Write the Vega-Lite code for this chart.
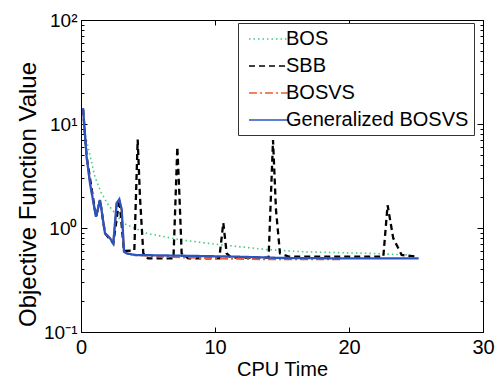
{
  "$schema": "https://vega.github.io/schema/vega-lite/v6.json",
  "width": 402,
  "height": 312,
  "autosize": "none",
  "padding": {"left": 81, "top": 20, "right": 16, "bottom": 53},
  "background": "white",
  "config": {
    "font": "Liberation Sans",
    "view": {"stroke": "black", "strokeWidth": 1},
    "axis": {"grid": false, "domainColor": "black", "tickColor": "black", "labelColor": "black", "titleColor": "black", "labelFont": "Liberation Sans", "titleFont": "Liberation Sans", "titleFontWeight": "normal"}
  },
  "data": {"values": [
    {"s": "BOS", "x": 0.15, "y": 14},
    {"s": "BOS", "x": 0.3, "y": 8},
    {"s": "BOS", "x": 0.67, "y": 5.0},
    {"s": "BOS", "x": 1.04, "y": 3.1},
    {"s": "BOS", "x": 1.5, "y": 2.2},
    {"s": "BOS", "x": 2.04, "y": 1.66},
    {"s": "BOS", "x": 3.16, "y": 1.11},
    {"s": "BOS", "x": 4.9, "y": 0.89},
    {"s": "BOS", "x": 7.39, "y": 0.77},
    {"s": "BOS", "x": 10.4, "y": 0.69},
    {"s": "BOS", "x": 13.9, "y": 0.62},
    {"s": "BOS", "x": 16.6, "y": 0.59},
    {"s": "BOS", "x": 21.6, "y": 0.57},
    {"s": "BOS", "x": 24.5, "y": 0.55},
    {"s": "SBB", "x": 0.15, "y": 14},
    {"s": "SBB", "x": 0.42, "y": 4.85},
    {"s": "SBB", "x": 1.12, "y": 1.28},
    {"s": "SBB", "x": 1.42, "y": 1.86},
    {"s": "SBB", "x": 1.79, "y": 0.89},
    {"s": "SBB", "x": 2.41, "y": 0.71},
    {"s": "SBB", "x": 2.86, "y": 1.88},
    {"s": "SBB", "x": 3.21, "y": 0.6},
    {"s": "SBB", "x": 3.98, "y": 0.61},
    {"s": "SBB", "x": 4.23, "y": 7.1},
    {"s": "SBB", "x": 4.4, "y": 2.0},
    {"s": "SBB", "x": 4.65, "y": 0.57},
    {"s": "SBB", "x": 5.0, "y": 0.51},
    {"s": "SBB", "x": 6.9, "y": 0.51},
    {"s": "SBB", "x": 7.19, "y": 6.0},
    {"s": "SBB", "x": 7.35, "y": 2.0},
    {"s": "SBB", "x": 7.51, "y": 0.57},
    {"s": "SBB", "x": 8.0, "y": 0.51},
    {"s": "SBB", "x": 10.32, "y": 0.51},
    {"s": "SBB", "x": 10.62, "y": 1.12},
    {"s": "SBB", "x": 10.87, "y": 0.57},
    {"s": "SBB", "x": 11.2, "y": 0.52},
    {"s": "SBB", "x": 14.0, "y": 0.52},
    {"s": "SBB", "x": 14.33, "y": 7.0},
    {"s": "SBB", "x": 14.55, "y": 1.5},
    {"s": "SBB", "x": 14.85, "y": 0.57},
    {"s": "SBB", "x": 15.5, "y": 0.53},
    {"s": "SBB", "x": 22.56, "y": 0.53},
    {"s": "SBB", "x": 22.88, "y": 1.66},
    {"s": "SBB", "x": 23.3, "y": 0.8},
    {"s": "SBB", "x": 23.93, "y": 0.55},
    {"s": "SBB", "x": 25.05, "y": 0.53},
    {"s": "BOSVS", "x": 0.15, "y": 14},
    {"s": "BOSVS", "x": 0.42, "y": 4.85},
    {"s": "BOSVS", "x": 0.67, "y": 2.7},
    {"s": "BOSVS", "x": 1.12, "y": 1.28},
    {"s": "BOSVS", "x": 1.42, "y": 1.86},
    {"s": "BOSVS", "x": 1.79, "y": 0.89},
    {"s": "BOSVS", "x": 2.16, "y": 0.8},
    {"s": "BOSVS", "x": 2.41, "y": 0.71},
    {"s": "BOSVS", "x": 2.66, "y": 1.73},
    {"s": "BOSVS", "x": 2.86, "y": 1.89},
    {"s": "BOSVS", "x": 3.04, "y": 1.49},
    {"s": "BOSVS", "x": 3.21, "y": 0.59},
    {"s": "BOSVS", "x": 3.41, "y": 0.57},
    {"s": "BOSVS", "x": 4.03, "y": 0.55},
    {"s": "BOSVS", "x": 6.0, "y": 0.53},
    {"s": "BOSVS", "x": 10.0, "y": 0.51},
    {"s": "BOSVS", "x": 14.0, "y": 0.5},
    {"s": "BOSVS", "x": 19.5, "y": 0.5},
    {"s": "Generalized BOSVS", "x": 0.15, "y": 14.2},
    {"s": "Generalized BOSVS", "x": 0.42, "y": 4.85},
    {"s": "Generalized BOSVS", "x": 0.67, "y": 2.7},
    {"s": "Generalized BOSVS", "x": 1.12, "y": 1.28},
    {"s": "Generalized BOSVS", "x": 1.42, "y": 1.86},
    {"s": "Generalized BOSVS", "x": 1.79, "y": 0.89},
    {"s": "Generalized BOSVS", "x": 2.16, "y": 0.8},
    {"s": "Generalized BOSVS", "x": 2.41, "y": 0.71},
    {"s": "Generalized BOSVS", "x": 2.66, "y": 1.73},
    {"s": "Generalized BOSVS", "x": 2.86, "y": 1.89},
    {"s": "Generalized BOSVS", "x": 3.04, "y": 1.49},
    {"s": "Generalized BOSVS", "x": 3.21, "y": 0.59},
    {"s": "Generalized BOSVS", "x": 3.41, "y": 0.57},
    {"s": "Generalized BOSVS", "x": 4.03, "y": 0.55},
    {"s": "Generalized BOSVS", "x": 8.0, "y": 0.54},
    {"s": "Generalized BOSVS", "x": 11.6, "y": 0.53},
    {"s": "Generalized BOSVS", "x": 15.0, "y": 0.515},
    {"s": "Generalized BOSVS", "x": 20.0, "y": 0.51},
    {"s": "Generalized BOSVS", "x": 25.2, "y": 0.51}
  ]},
  "resolve": {"axis": {"x": "independent", "y": "independent"}},
  "layer": [
    {
      "transform": [{"filter": "datum.s == 'BOS'"}],
      "mark": {"type": "line", "strokeWidth": 1.6},
      "encoding": {
        "x": {"field": "x", "type": "quantitative", "scale": {"domain": [0, 30], "nice": false},
          "axis": {"orient": "bottom", "values": [0, 10, 20, 30], "tickSize": -5, "labelFontSize": 20, "labelPadding": 10, "title": "CPU Time", "titleFontSize": 20, "titlePadding": 2, "labelFlush": false}},
        "y": {"field": "y", "type": "quantitative", "scale": {"type": "log", "domain": [0.1, 100], "nice": false},
          "axis": {"orient": "left",
            "values": [0.1, 0.2, 0.3, 0.4, 0.5, 0.6, 0.7, 0.8, 0.9, 1, 2, 3, 4, 5, 6, 7, 8, 9, 10, 20, 30, 40, 50, 60, 70, 80, 90, 100],
            "tickSize": {"condition": {"test": "datum.value == 0.1 || datum.value == 1 || datum.value == 10 || datum.value == 100", "value": -6}, "value": -3},
            "labelExpr": "datum.value == 100 ? '10²' : datum.value == 10 ? '10¹' : datum.value == 1 ? '10⁰' : datum.value == 0.1 ? '10⁻¹' : ''",
            "labelOverlap": false, "labelFontSize": 19, "labelPadding": 10, "labelFlush": false,
            "title": "Objective Function Value", "titleFontSize": 24, "titlePadding": 3, "titleY": 174}},
        "color": {"field": "s", "type": "nominal", "title": null,
          "scale": {"domain": ["BOS", "SBB", "BOSVS", "Generalized BOSVS"], "range": ["#3fcf7f", "#000000", "#ee5a2a", "#2a55c0"]},
          "legend": {"orient": "none", "legendX": 157, "legendY": 3, "fillColor": "white", "strokeColor": "#333333", "padding": 5, "symbolType": "M-2,0L2,0", "symbolSize": 400, "symbolStrokeWidth": 1.6, "symbolFillColor": "transparent", "labelFontSize": 20, "labelLimit": 400, "labelColor": "black", "rowPadding": 6, "symbolOffset": 15, "labelOffset": 6, "columns": 1}},
        "strokeDash": {"field": "s", "type": "nominal", "title": null,
          "scale": {"domain": ["BOS", "SBB", "BOSVS", "Generalized BOSVS"], "range": [[1.5, 3], [6, 4], [8, 3, 2, 3], [1, 0]]}}
      }
    },
    {
      "transform": [{"filter": "datum.s == 'SBB'"}],
      "mark": {"type": "line", "strokeWidth": 2.3},
      "encoding": {
        "x": {"field": "x", "type": "quantitative", "axis": null},
        "y": {"field": "y", "type": "quantitative", "axis": null},
        "color": {"field": "s", "type": "nominal", "title": null},
        "strokeDash": {"field": "s", "type": "nominal", "title": null}
      }
    },
    {
      "transform": [{"filter": "datum.s == 'BOSVS'"}],
      "mark": {"type": "line", "strokeWidth": 2},
      "encoding": {
        "x": {"field": "x", "type": "quantitative", "axis": null},
        "y": {"field": "y", "type": "quantitative", "axis": null},
        "color": {"field": "s", "type": "nominal", "title": null},
        "strokeDash": {"field": "s", "type": "nominal", "title": null}
      }
    },
    {
      "transform": [{"filter": "datum.s == 'Generalized BOSVS'"}],
      "mark": {"type": "line", "strokeWidth": 2.3},
      "encoding": {
        "x": {"field": "x", "type": "quantitative",
          "axis": {"orient": "top", "values": [0, 10, 20, 30], "tickSize": -5, "labels": false, "title": null}},
        "y": {"field": "y", "type": "quantitative",
          "axis": {"orient": "right", "values": [0.1, 0.2, 0.3, 0.4, 0.5, 0.6, 0.7, 0.8, 0.9, 1, 2, 3, 4, 5, 6, 7, 8, 9, 10, 20, 30, 40, 50, 60, 70, 80, 90, 100],
            "tickSize": {"condition": {"test": "datum.value == 0.1 || datum.value == 1 || datum.value == 10 || datum.value == 100", "value": -6}, "value": -3},
            "labels": false, "title": null}},
        "color": {"field": "s", "type": "nominal", "title": null},
        "strokeDash": {"field": "s", "type": "nominal", "title": null}
      }
    }
  ]
}
